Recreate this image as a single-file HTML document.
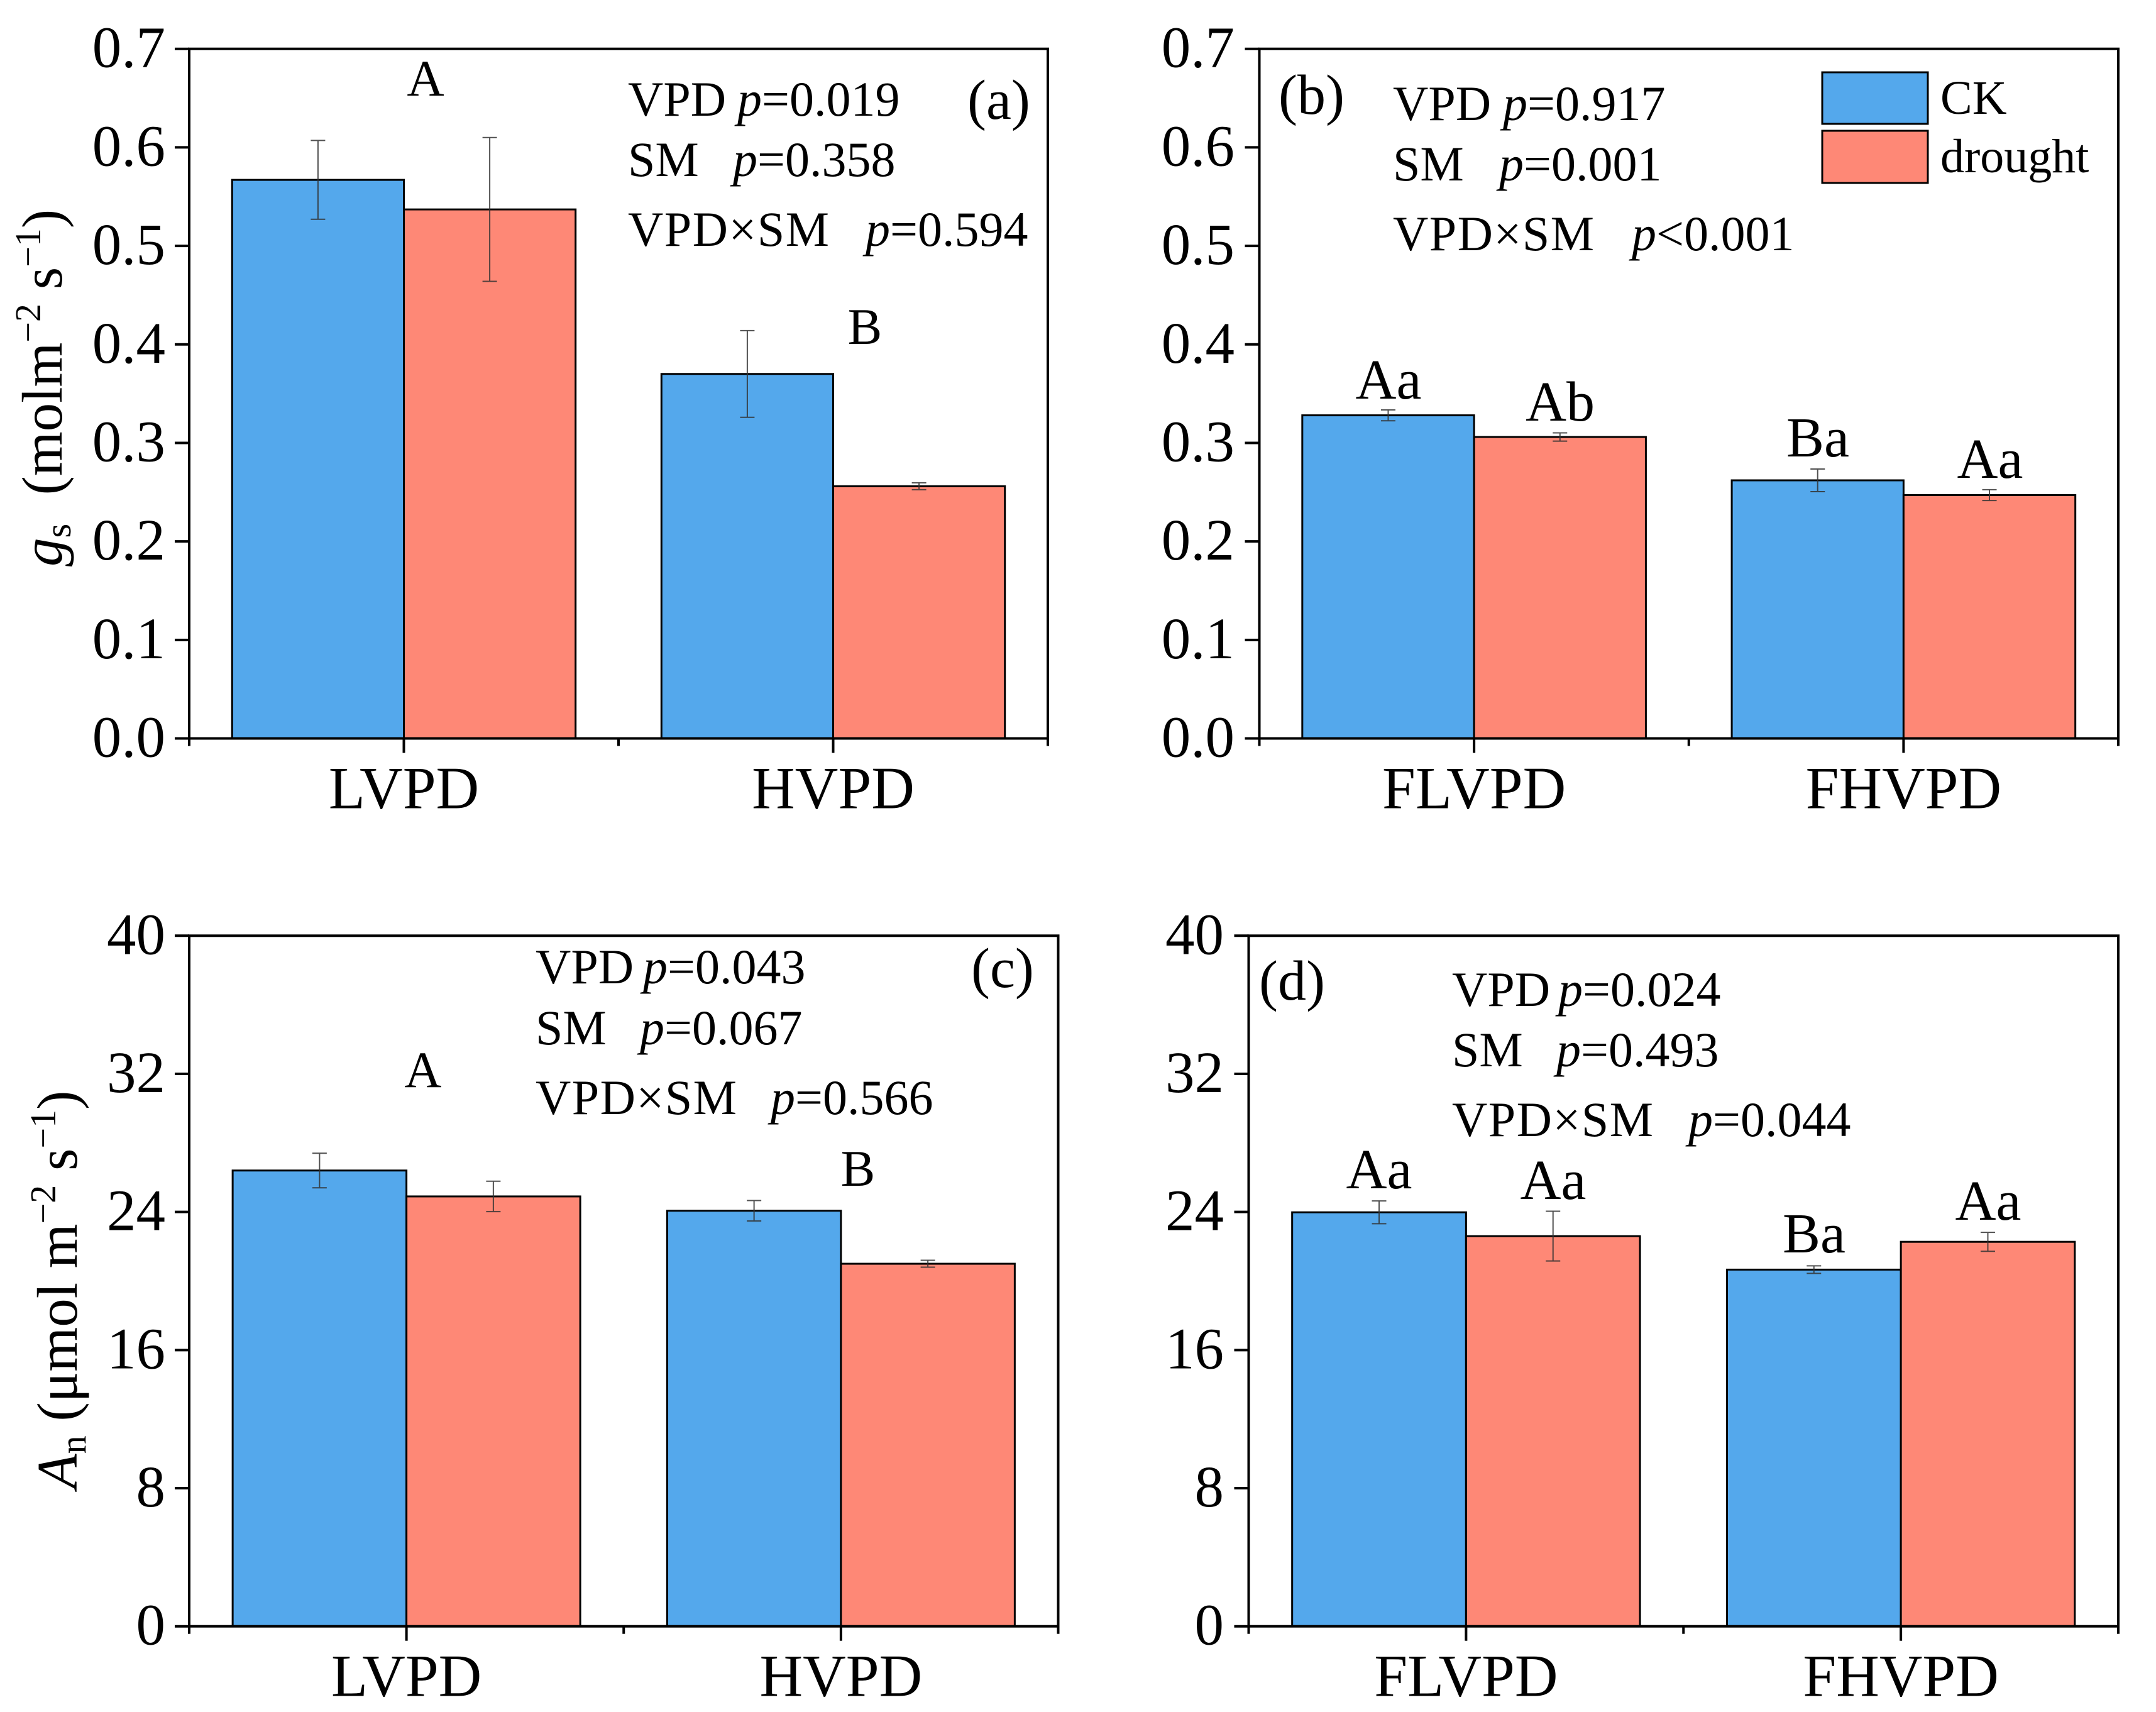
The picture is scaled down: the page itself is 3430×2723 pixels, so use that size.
<!DOCTYPE html>
<html lang="en">
<head>
<meta charset="utf-8">
<title>Stomatal conductance and net photosynthesis bar charts</title>
<style>
html,body{margin:0;padding:0;background:#fff;}
svg{display:block;}
text{font-family:"Liberation Serif","Times New Roman",serif;fill:#000;}
.stat{font-size:78px;}
.panel-tag{font-size:90px;}
.sig{font-size:90px;text-anchor:middle;}
.legend-text{font-size:76px;}
.axis-title{font-size:91px;}
</style>
</head>
<body>
<svg id="figure" xmlns="http://www.w3.org/2000/svg" width="3430" height="2723" viewBox="0 0 3430 2723">
  <rect x="0" y="0" width="3430" height="2723" fill="#fff"/>
  <g id="plots"></g>

  <g>
    <text class="panel-tag" x="1539" y="189">(a)</text>
    <text class="stat" x="999" y="184">VPD</text>
    <text class="stat" x="1173" y="184"><tspan font-style="italic">p</tspan>=0.019</text>
    <text class="stat" x="999" y="280">SM</text>
    <text class="stat" x="1166" y="280"><tspan font-style="italic">p</tspan>=0.358</text>
    <text class="stat" textLength="320" x="999" y="391">VPD×SM</text>
    <text class="stat" x="1377" y="391"><tspan font-style="italic">p</tspan>=0.594</text>
    <text class="sig" style="font-size:82px" x="677" y="152">A</text>
    <text class="sig" style="font-size:82px" x="1376" y="547">B</text>
  </g>

  <g>
    <text class="panel-tag" x="2034" y="181">(b)</text>
    <text class="stat" x="2216" y="191">VPD</text>
    <text class="stat" x="2391" y="191"><tspan font-style="italic">p</tspan>=0.917</text>
    <text class="stat" x="2216" y="287">SM</text>
    <text class="stat" x="2385" y="287"><tspan font-style="italic">p</tspan>=0.001</text>
    <text class="stat" textLength="320" x="2216" y="398">VPD×SM</text>
    <text class="stat" x="2596" y="398"><tspan font-style="italic">p</tspan>&lt;0.001</text>
    <text class="sig" x="2209" y="634">Aa</text>
    <text class="sig" x="2482" y="669">Ab</text>
    <text class="sig" x="2892" y="726">Ba</text>
    <text class="sig" x="3166" y="760">Aa</text>
  </g>

  <g>
    <text class="panel-tag" x="1545" y="1570">(c)</text>
    <text class="stat" x="852" y="1564">VPD</text>
    <text class="stat" x="1023" y="1564"><tspan font-style="italic">p</tspan>=0.043</text>
    <text class="stat" x="852" y="1661">SM</text>
    <text class="stat" x="1018" y="1661"><tspan font-style="italic">p</tspan>=0.067</text>
    <text class="stat" textLength="320" x="852" y="1772">VPD×SM</text>
    <text class="stat" x="1226" y="1772"><tspan font-style="italic">p</tspan>=0.566</text>
    <text class="sig" style="font-size:82px" x="673" y="1729">A</text>
    <text class="sig" style="font-size:82px" x="1365" y="1886">B</text>
  </g>

  <g>
    <text class="panel-tag" x="2003" y="1590">(d)</text>
    <text class="stat" x="2310" y="1600">VPD</text>
    <text class="stat" x="2479" y="1600"><tspan font-style="italic">p</tspan>=0.024</text>
    <text class="stat" x="2310" y="1696">SM</text>
    <text class="stat" x="2476" y="1696"><tspan font-style="italic">p</tspan>=0.493</text>
    <text class="stat" textLength="320" x="2310" y="1807">VPD×SM</text>
    <text class="stat" x="2686" y="1807"><tspan font-style="italic">p</tspan>=0.044</text>
    <text class="sig" x="2194" y="1890">Aa</text>
    <text class="sig" x="2471" y="1907">Aa</text>
    <text class="sig" x="2886" y="1992">Ba</text>
    <text class="sig" x="3163" y="1940">Aa</text>
  </g>

  <g>
    <rect x="2899" y="115" width="168" height="82" fill="#54a8ec" stroke="#000" stroke-width="3"/>
    <text class="legend-text" x="3087" y="181">CK</text>
    <rect x="2899" y="208" width="168" height="83" fill="#fe8876" stroke="#000" stroke-width="3"/>
    <text class="legend-text" x="3087" y="274">drought</text>
  </g>

  <text class="axis-title" transform="translate(98,901) rotate(-90)"><tspan font-style="italic">g</tspan><tspan font-size="58" dy="14">s</tspan><tspan dy="-14" xml:space="preserve">  (molm</tspan><tspan font-size="58" dy="-34">−2</tspan><tspan dy="34" xml:space="preserve"> s</tspan><tspan font-size="58" dy="-34">−1</tspan><tspan dy="34">)</tspan></text>
  <text class="axis-title" transform="translate(122,2368) rotate(-90)"><tspan font-style="italic">A</tspan><tspan font-size="58" dy="14">n</tspan><tspan dy="-14" xml:space="preserve"> (μmol m</tspan><tspan font-size="58" dy="-34">−2</tspan><tspan dy="34" xml:space="preserve"> s</tspan><tspan font-size="58" dy="-34">−1</tspan><tspan dy="34">)</tspan></text>
</svg>

<script>
// ---- chart data ----
const categoriesA = ['LVPD', 'HVPD'];
const ckValuesA = [0.567, 0.370];
const droughtValuesA = [0.537, 0.256];
const ckErrorsA = [0.040, 0.044];
const droughtErrorsA = [0.073, 0.0035];

const categoriesB = ['FLVPD', 'FHVPD'];
const ckValuesB = [0.328, 0.262];
const droughtValuesB = [0.306, 0.247];
const ckErrorsB = [0.0055, 0.0115];
const droughtErrorsB = [0.0042, 0.0055];

const categoriesC = ['LVPD', 'HVPD'];
const ckValuesC = [26.4, 24.07];
const droughtValuesC = [24.9, 21.0];
const ckErrorsC = [1.0, 0.59];
const droughtErrorsC = [0.88, 0.2];

const categoriesD = ['FLVPD', 'FHVPD'];
const ckValuesD = [23.98, 20.66];
const droughtValuesD = [22.6, 22.27];
const ckErrorsD = [0.66, 0.22];
const droughtErrorsD = [1.44, 0.55];

const gsTickLabels = ['0.0', '0.1', '0.2', '0.3', '0.4', '0.5', '0.6', '0.7'];
const anTickLabels = ['0', '8', '16', '24', '32', '40'];

const CK_COLOR = '#54a8ec';
const DROUGHT_COLOR = '#fe8876';
const SVG_NS = 'http://www.w3.org/2000/svg';
const plots = document.getElementById('plots');

function make(parent, tag, attrs, content) {
  const node = document.createElementNS(SVG_NS, tag);
  for (const key in attrs) node.setAttribute(key, attrs[key]);
  if (content !== undefined) node.textContent = content;
  parent.appendChild(node);
  return node;
}

function drawPanel(id, box, categories, ckValues, droughtValues, ckErrors, droughtErrors, tickLabels) {
  const { left, right, top, bottom, labelRight } = box;
  const width = right - left;
  const maxValue = parseFloat(tickLabels[tickLabels.length - 1]);
  const yScale = v => bottom - (v / maxValue) * (bottom - top);
  const groupCenter = i => left + (i + 0.5) * width / categories.length;
  const barWidth = width * 0.2;

  const g = make(plots, 'g', {});
  
  

  const series = [
    { name: 'ck', values: ckValues, errors: ckErrors, color: CK_COLOR, offset: -barWidth },
    { name: 'drought', values: droughtValues, errors: droughtErrors, color: DROUGHT_COLOR, offset: 0 }
  ];

  series.forEach(s => {
    s.values.forEach((v, i) => {
      const bar = make(g, 'rect', {
        x: groupCenter(i) + s.offset, y: yScale(v), width: barWidth, height: bottom - yScale(v),
        fill: s.color, stroke: '#000', 'stroke-width': 3
      });
      
      
    });
  });

  series.forEach(s => {
    s.values.forEach((v, i) => {
      const cx = groupCenter(i) + s.offset + barWidth / 2;
      const y1 = yScale(v + s.errors[i]);
      const y2 = yScale(v - s.errors[i]);
      const err = make(g, 'path', {
        d: 'M' + (cx - 11.5) + ' ' + y1 + 'H' + (cx + 11.5) +
           'M' + cx + ' ' + y1 + 'V' + y2 +
           'M' + (cx - 11.5) + ' ' + y2 + 'H' + (cx + 11.5),
        fill: 'none', stroke: '#333', 'stroke-width': 2, 'stroke-opacity': 0.85
      });
      
      
    });
  });

  const frame = make(g, 'rect', { x: left, y: top, width: width, height: bottom - top, fill: 'none', stroke: '#000', 'stroke-width': 4 });
  
  

  tickLabels.forEach(label => {
    const y = yScale(parseFloat(label));
    const tick = make(g, 'line', { x1: left - 23, x2: left, y1: y, y2: y, stroke: '#000', 'stroke-width': 4 });
    
    
    const text = make(g, 'text', { x: labelRight, y: y + 29, 'text-anchor': 'end', 'font-size': 93 }, label);
    
    
  });

  categories.forEach((name, i) => {
    const cx = groupCenter(i);
    const tick = make(g, 'line', { x1: cx, x2: cx, y1: bottom, y2: bottom + 23, stroke: '#000', 'stroke-width': 4 });
    
    
    const text = make(g, 'text', { x: cx, y: bottom + 111, 'text-anchor': 'middle', 'font-size': 95 }, name);
    
    
  });

  for (let k = 0; k <= categories.length; k++) {
    const x = left + k * width / categories.length;
    const minor = make(g, 'line', { x1: x, x2: x, y1: bottom, y2: bottom + 12, stroke: '#000', 'stroke-width': 4 });
    
    
  }
}

drawPanel('a', { left: 301, right: 1667, top: 77.7, bottom: 1174.5, labelRight: 263 },
  categoriesA, ckValuesA, droughtValuesA, ckErrorsA, droughtErrorsA, gsTickLabels);
drawPanel('b', { left: 2003.5, right: 3370, top: 77.7, bottom: 1174.5, labelRight: 1964 },
  categoriesB, ckValuesB, droughtValuesB, ckErrorsB, droughtErrorsB, gsTickLabels);
drawPanel('c', { left: 301, right: 1683.5, top: 1488.3, bottom: 2586.7, labelRight: 263 },
  categoriesC, ckValuesC, droughtValuesC, ckErrorsC, droughtErrorsC, anTickLabels);
drawPanel('d', { left: 1986.5, right: 3370, top: 1488.3, bottom: 2586.7, labelRight: 1947 },
  categoriesD, ckValuesD, droughtValuesD, ckErrorsD, droughtErrorsD, anTickLabels);
</script>
</body>
</html>
